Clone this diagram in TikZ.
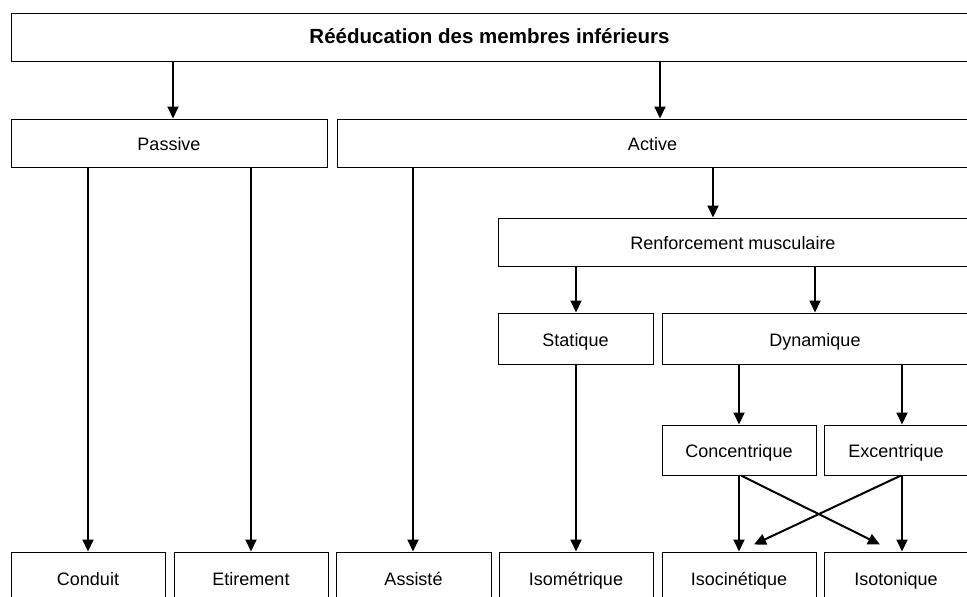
\documentclass[tikz,border=0pt]{standalone}
\usepackage{fontspec}
\setmainfont{Liberation Sans}
\usetikzlibrary{arrows.meta,calc}
\begin{document}
\begin{tikzpicture}[x=1pt,y=-1pt,
  box/.style={draw,line width=1pt,inner sep=0pt,text height=17pt,text depth=2pt,
    font=\fontsize{18}{21}\selectfont},
  title/.style={font=\fontsize{20.5}{24}\selectfont\bfseries,text height=16pt,text depth=4pt},
  arr/.style={line width=2pt,-{Triangle[length=12pt,width=11pt]}}]
\useasboundingbox (0,0) rectangle (967,597);
\clip (0,0) rectangle (967,597);
% box placed by its left, right, top and bottom edges
\newcommand{\boxat}[7][]{\node[box,#1,minimum width={#4-#3},minimum height={#6-#5}] (#2) at ({(#3+#4)/2},{(#5+#6)/2}) {#7};}
\boxat[title]{top}{11}{968}{13}{61}{Rééducation des membres inférieurs}
\boxat{passive}{11}{327}{119}{167}{Passive}
\boxat{active}{337}{968}{119}{167}{Active}
\boxat{renf}{498}{968}{218}{266}{Renforcement musculaire}
\boxat{stat}{498}{653}{313}{364}{Statique}
\boxat{dyn}{662}{968}{313}{364}{Dynamique}
\boxat{conc}{662}{816}{425}{475}{Concentrique}
\boxat{exc}{824}{968}{425}{475}{Excentrique}
\boxat{cond}{11}{165}{552}{604}{Conduit}
\boxat{etir}{174}{328}{552}{604}{Etirement}
\boxat{assi}{336}{491}{552}{604}{Assisté}
\boxat{isom}{499}{653}{552}{604}{Isométrique}
\boxat{isoc}{662}{816}{552}{604}{Isocinétique}
\boxat{isot}{824}{968}{552}{604}{Isotonique}
% connectors
\draw[arr] (top.south -| 173,0) -- (passive.north -| 173,0);
\draw[arr] (top.south -| 660,0) -- (active.north -| 660,0);
\draw[arr] (passive.south -| 88,0) -- (cond.north -| 88,0);
\draw[arr] (passive.south -| 251,0) -- (etir.north -| 251,0);
\draw[arr] (active.south -| 413,0) -- (assi.north -| 413,0);
\draw[arr] (active.south -| 713,0) -- (renf.north -| 713,0);
\draw[arr] (renf.south -| 576,0) -- (stat.north -| 576,0);
\draw[arr] (renf.south -| 815,0) -- (dyn.north -| 815,0);
\draw[arr] (stat.south -| 576,0) -- (isom.north -| 576,0);
\draw[arr] (dyn.south -| 739,0) -- (conc.north -| 739,0);
\draw[arr] (dyn.south -| 902,0) -- (exc.north -| 902,0);
\draw[arr] (conc.south -| 739,0) -- (isoc.north -| 739,0);
\draw[arr] (exc.south -| 902,0) -- (isot.north -| 902,0);
\draw[arr] (conc.south -| 741,0) -- ($(isot.north -| 880,0)+(0,-7)$);
\draw[arr] (exc.south -| 901,0) -- ($(isoc.north -| 754,0)+(0,-7)$);
\end{tikzpicture}
\end{document}
